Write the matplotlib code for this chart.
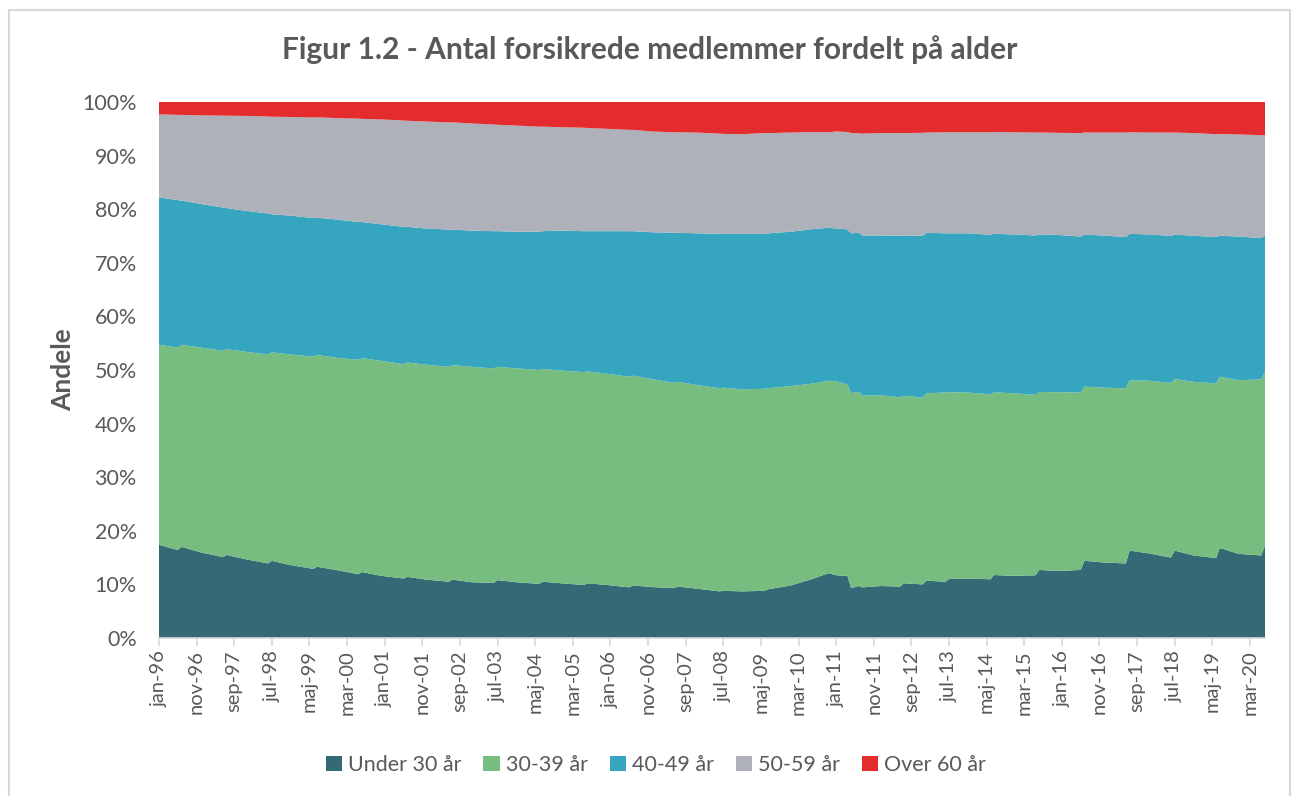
import matplotlib
matplotlib.use("Agg")
import matplotlib.pyplot as plt
from matplotlib.patches import Rectangle, Patch
import pandas as pd

# ---------------- data (shares in %) ----------------
dates = ["1996-01", "1996-06", "1996-07", "1996-12", "1997-06", "1997-07", "1997-12",
         "1998-06", "1998-07", "1998-12", "1999-06", "1999-07", "1999-12",
         "2000-06", "2000-07", "2000-12", "2001-06", "2001-07", "2001-12",
         "2002-06", "2002-07", "2002-12", "2003-06", "2003-07", "2003-12",
         "2004-06", "2004-07", "2004-12", "2005-06", "2005-07", "2005-12",
         "2006-06", "2006-07", "2006-12", "2007-06", "2007-07", "2007-12",
         "2008-06", "2008-07", "2008-12", "2009-06", "2009-07", "2010-01",
         "2010-07", "2010-11", "2011-01", "2011-04", "2011-05", "2011-07", "2011-08",
         "2012-01", "2012-06", "2012-07", "2012-12", "2013-01", "2013-06", "2013-07",
         "2013-12", "2014-06", "2014-07", "2014-12", "2015-06", "2015-07", "2015-12",
         "2016-06", "2016-07", "2016-12", "2017-06", "2017-07", "2017-12",
         "2018-06", "2018-07", "2018-12", "2019-06", "2019-07", "2019-12",
         "2020-06", "2020-07"]

under_30 = [17.4, 16.4, 17.0, 16.0, 15.1, 15.5, 14.7, 13.9, 14.4, 13.6, 12.9, 13.3, 12.7,
            11.9, 12.3, 11.6, 11.1, 11.4, 10.9, 10.5, 10.9, 10.4, 10.3, 10.8, 10.4,
            10.1, 10.5, 10.2, 9.9, 10.2, 9.9, 9.45, 9.8, 9.5, 9.3, 9.6, 9.2,
            8.7, 8.8, 8.7, 8.8, 9.1, 9.8, 11.1, 12.1, 11.7, 11.6, 9.3, 9.7, 9.45,
            9.7, 9.6, 10.2, 10.0, 10.7, 10.5, 11.0, 11.1, 10.95, 11.75, 11.6, 11.7, 12.7, 12.5,
            12.7, 14.4, 14.1, 13.9, 16.3, 15.8, 15.0, 16.3, 15.4, 14.9, 16.8, 15.7, 15.4, 17.3]

age_30_39 = [37.3, 37.8, 37.7, 38.2, 38.5, 38.4, 38.7, 39.0, 38.9, 39.3, 39.6, 39.5, 39.6,
             40.0, 39.9, 40.1, 40.0, 40.0, 40.1, 40.1, 40.0, 40.2, 40.0, 39.8, 39.9,
             39.9, 39.7, 39.7, 39.7, 39.55, 39.4, 39.3, 39.15, 38.8, 38.3, 38.2, 38.0,
             37.9, 37.9, 37.7, 37.7, 37.5, 37.2, 36.4, 35.9, 36.2, 35.7, 36.4, 36.25, 35.75,
             35.6, 35.3, 35.0, 34.85, 34.95, 35.3, 34.85, 34.7, 34.5, 34.1, 34.05, 33.7, 33.2, 33.35,
             33.1, 32.5, 32.6, 32.7, 31.8, 32.2, 32.6, 32.0, 32.4, 32.6, 31.95, 32.4, 32.85, 32.4]

age_40_49 = [27.5, 27.5, 26.9, 26.8, 26.7, 26.3, 26.3, 26.3, 25.75, 25.9, 25.85, 25.6, 25.8,
             25.7, 25.4, 25.5, 25.6, 25.3, 25.4, 25.6, 25.3, 25.4, 25.6, 25.3, 25.5,
             25.8, 25.7, 26.1, 26.3, 26.15, 26.6, 27.15, 26.95, 27.4, 28.0, 27.8, 28.3,
             28.8, 28.7, 29.0, 28.9, 28.9, 28.8, 28.8, 28.55, 28.5, 28.95, 29.8, 29.65, 29.9,
             29.8, 30.15, 29.9, 30.2, 29.95, 29.7, 29.65, 29.7, 29.8, 29.55, 29.65, 29.7, 29.4, 29.35,
             29.1, 28.35, 28.4, 28.2, 27.3, 27.3, 27.4, 26.95, 27.25, 27.3, 26.3, 26.8, 26.35, 25.4]

age_50_59 = [15.5, 15.9, 16.0, 16.5, 17.15, 17.25, 17.7, 18.1, 18.2, 18.4, 18.75, 18.75, 18.9,
             19.3, 19.25, 19.55, 19.85, 19.8, 19.95, 20.0, 20.0, 20.0, 19.9, 19.85, 19.8,
             19.6, 19.5, 19.3, 19.3, 19.25, 19.1, 18.9, 18.9, 18.8, 18.75, 18.75, 18.8,
             18.7, 18.65, 18.6, 18.8, 18.7, 18.5, 18.1, 17.8, 18.1, 18.15, 18.7, 18.6, 19.0,
             19.1, 19.15, 19.1, 19.2, 18.7, 18.85, 18.85, 18.85, 19.1, 19.0, 19.05, 19.2, 19.0, 19.05,
             19.3, 19.05, 19.2, 19.5, 18.95, 19.0, 19.3, 19.05, 19.15, 19.2, 19.0, 19.05, 19.2, 18.7]

over_60 = [2.3, 2.4, 2.4, 2.5, 2.55, 2.55, 2.6, 2.7, 2.75, 2.8, 2.9, 2.85, 3.0,
           3.1, 3.15, 3.25, 3.45, 3.5, 3.65, 3.8, 3.8, 4.0, 4.2, 4.25, 4.4,
           4.6, 4.6, 4.7, 4.8, 4.85, 5.0, 5.2, 5.2, 5.5, 5.65, 5.65, 5.7,
           5.9, 5.95, 6.0, 5.8, 5.8, 5.7, 5.6, 5.65, 5.5, 5.6, 5.8, 5.8, 5.9,
           5.8, 5.8, 5.8, 5.75, 5.7, 5.65, 5.65, 5.65, 5.65, 5.6, 5.65, 5.7, 5.7, 5.75,
           5.8, 5.7, 5.7, 5.7, 5.65, 5.7, 5.7, 5.7, 5.8, 6.0, 5.95, 6.05, 6.2, 6.2]

series_names = ["Under 30 år", "30-39 år", "40-49 år", "50-59 år", "Over 60 år"]
colors = ["#336a76", "#76bd7f", "#35a5c0", "#aeb1b9", "#e42c2e"]

tick_labels = ["jan-96", "nov-96", "sep-97", "jul-98", "maj-99", "mar-00", "jan-01", "nov-01",
               "sep-02", "jul-03", "maj-04", "mar-05", "jan-06", "nov-06", "sep-07", "jul-08",
               "maj-09", "mar-10", "jan-11", "nov-11", "sep-12", "jul-13", "maj-14", "mar-15",
               "jan-16", "nov-16", "sep-17", "jul-18", "maj-19", "mar-20"]
y_ticks = [0, 10, 20, 30, 40, 50, 60, 70, 80, 90, 100]

title = "Figur 1.2 - Antal forsikrede medlemmer fordelt på alder"
ylabel = "Andele"

# ---------------- helpers ----------------
danish_months = ["jan", "feb", "mar", "apr", "maj", "jun", "jul", "aug", "sep", "okt", "nov", "dec"]
start = pd.Period("1996-01", freq="M")


def month_index(p):
    return (p.year - start.year) * 12 + (p.month - start.month)


x = [month_index(pd.Period(d, freq="M")) for d in dates]


def label_index(lbl):
    mon, yy = lbl.split("-")
    yy = int(yy)
    year = 1900 + yy if yy > 50 else 2000 + yy
    return (year - 1996) * 12 + danish_months.index(mon)


tick_pos = [label_index(l) for l in tick_labels]

# ---------------- figure ----------------
TXT = "#595959"
plt.rcParams["font.family"] = ["Lato", "DejaVu Sans"]

fig = plt.figure(figsize=(12.93, 7.96), dpi=100)
fig.patch.set_facecolor("white")
ax = fig.add_axes([159 / 1293, 1 - 638 / 796, (1265 - 159) / 1293, (638 - 102) / 796])

ax.stackplot(x, under_30, age_30_39, age_40_49, age_50_59, over_60,
             colors=colors, labels=series_names, linewidth=0)

ax.set_xlim(x[0], x[-1])
ax.set_ylim(0, 100)
ax.set_yticks(y_ticks)
ax.set_yticklabels([f"{v}%" for v in y_ticks], fontsize=15.5, color=TXT)
ax.set_xticks(tick_pos)
ax.set_xticklabels(tick_labels, rotation=90, fontsize=14.5, color=TXT)
ax.tick_params(axis="y", length=0, pad=16)
ax.tick_params(axis="x", length=6, width=1.2, color="#d9d9d9", pad=3)

for side in ["top", "right", "left"]:
    ax.spines[side].set_visible(False)
ax.spines["bottom"].set_color("#d9d9d9")
ax.spines["bottom"].set_linewidth(1.2)

ax.set_ylabel(ylabel, fontsize=19, fontweight="bold", color=TXT, labelpad=5)

fig.text(650 / 1293, 1 - 50 / 796, title, ha="center", va="center",
         fontsize=21.5, fontweight="bold", color=TXT)

handles = [Patch(facecolor=c, edgecolor="none") for c in colors]
fig.legend(handles, series_names, loc="center", bbox_to_anchor=(656 / 1293, 1 - 765 / 796),
           ncol=5, frameon=False, fontsize=15.5, labelcolor=TXT, handlelength=0.75,
           handleheight=0.75, handletextpad=0.3, columnspacing=1.0)

# outer border of the chart area
fig.patches.append(Rectangle((9 / 1293, -0.01), (1290 - 9) / 1293, 1 - 10 / 796 + 0.01,
                             transform=fig.transFigure, fill=False,
                             edgecolor="#d9d9d9", linewidth=1.5))

fig.savefig("out.png", dpi=100, facecolor="white")
